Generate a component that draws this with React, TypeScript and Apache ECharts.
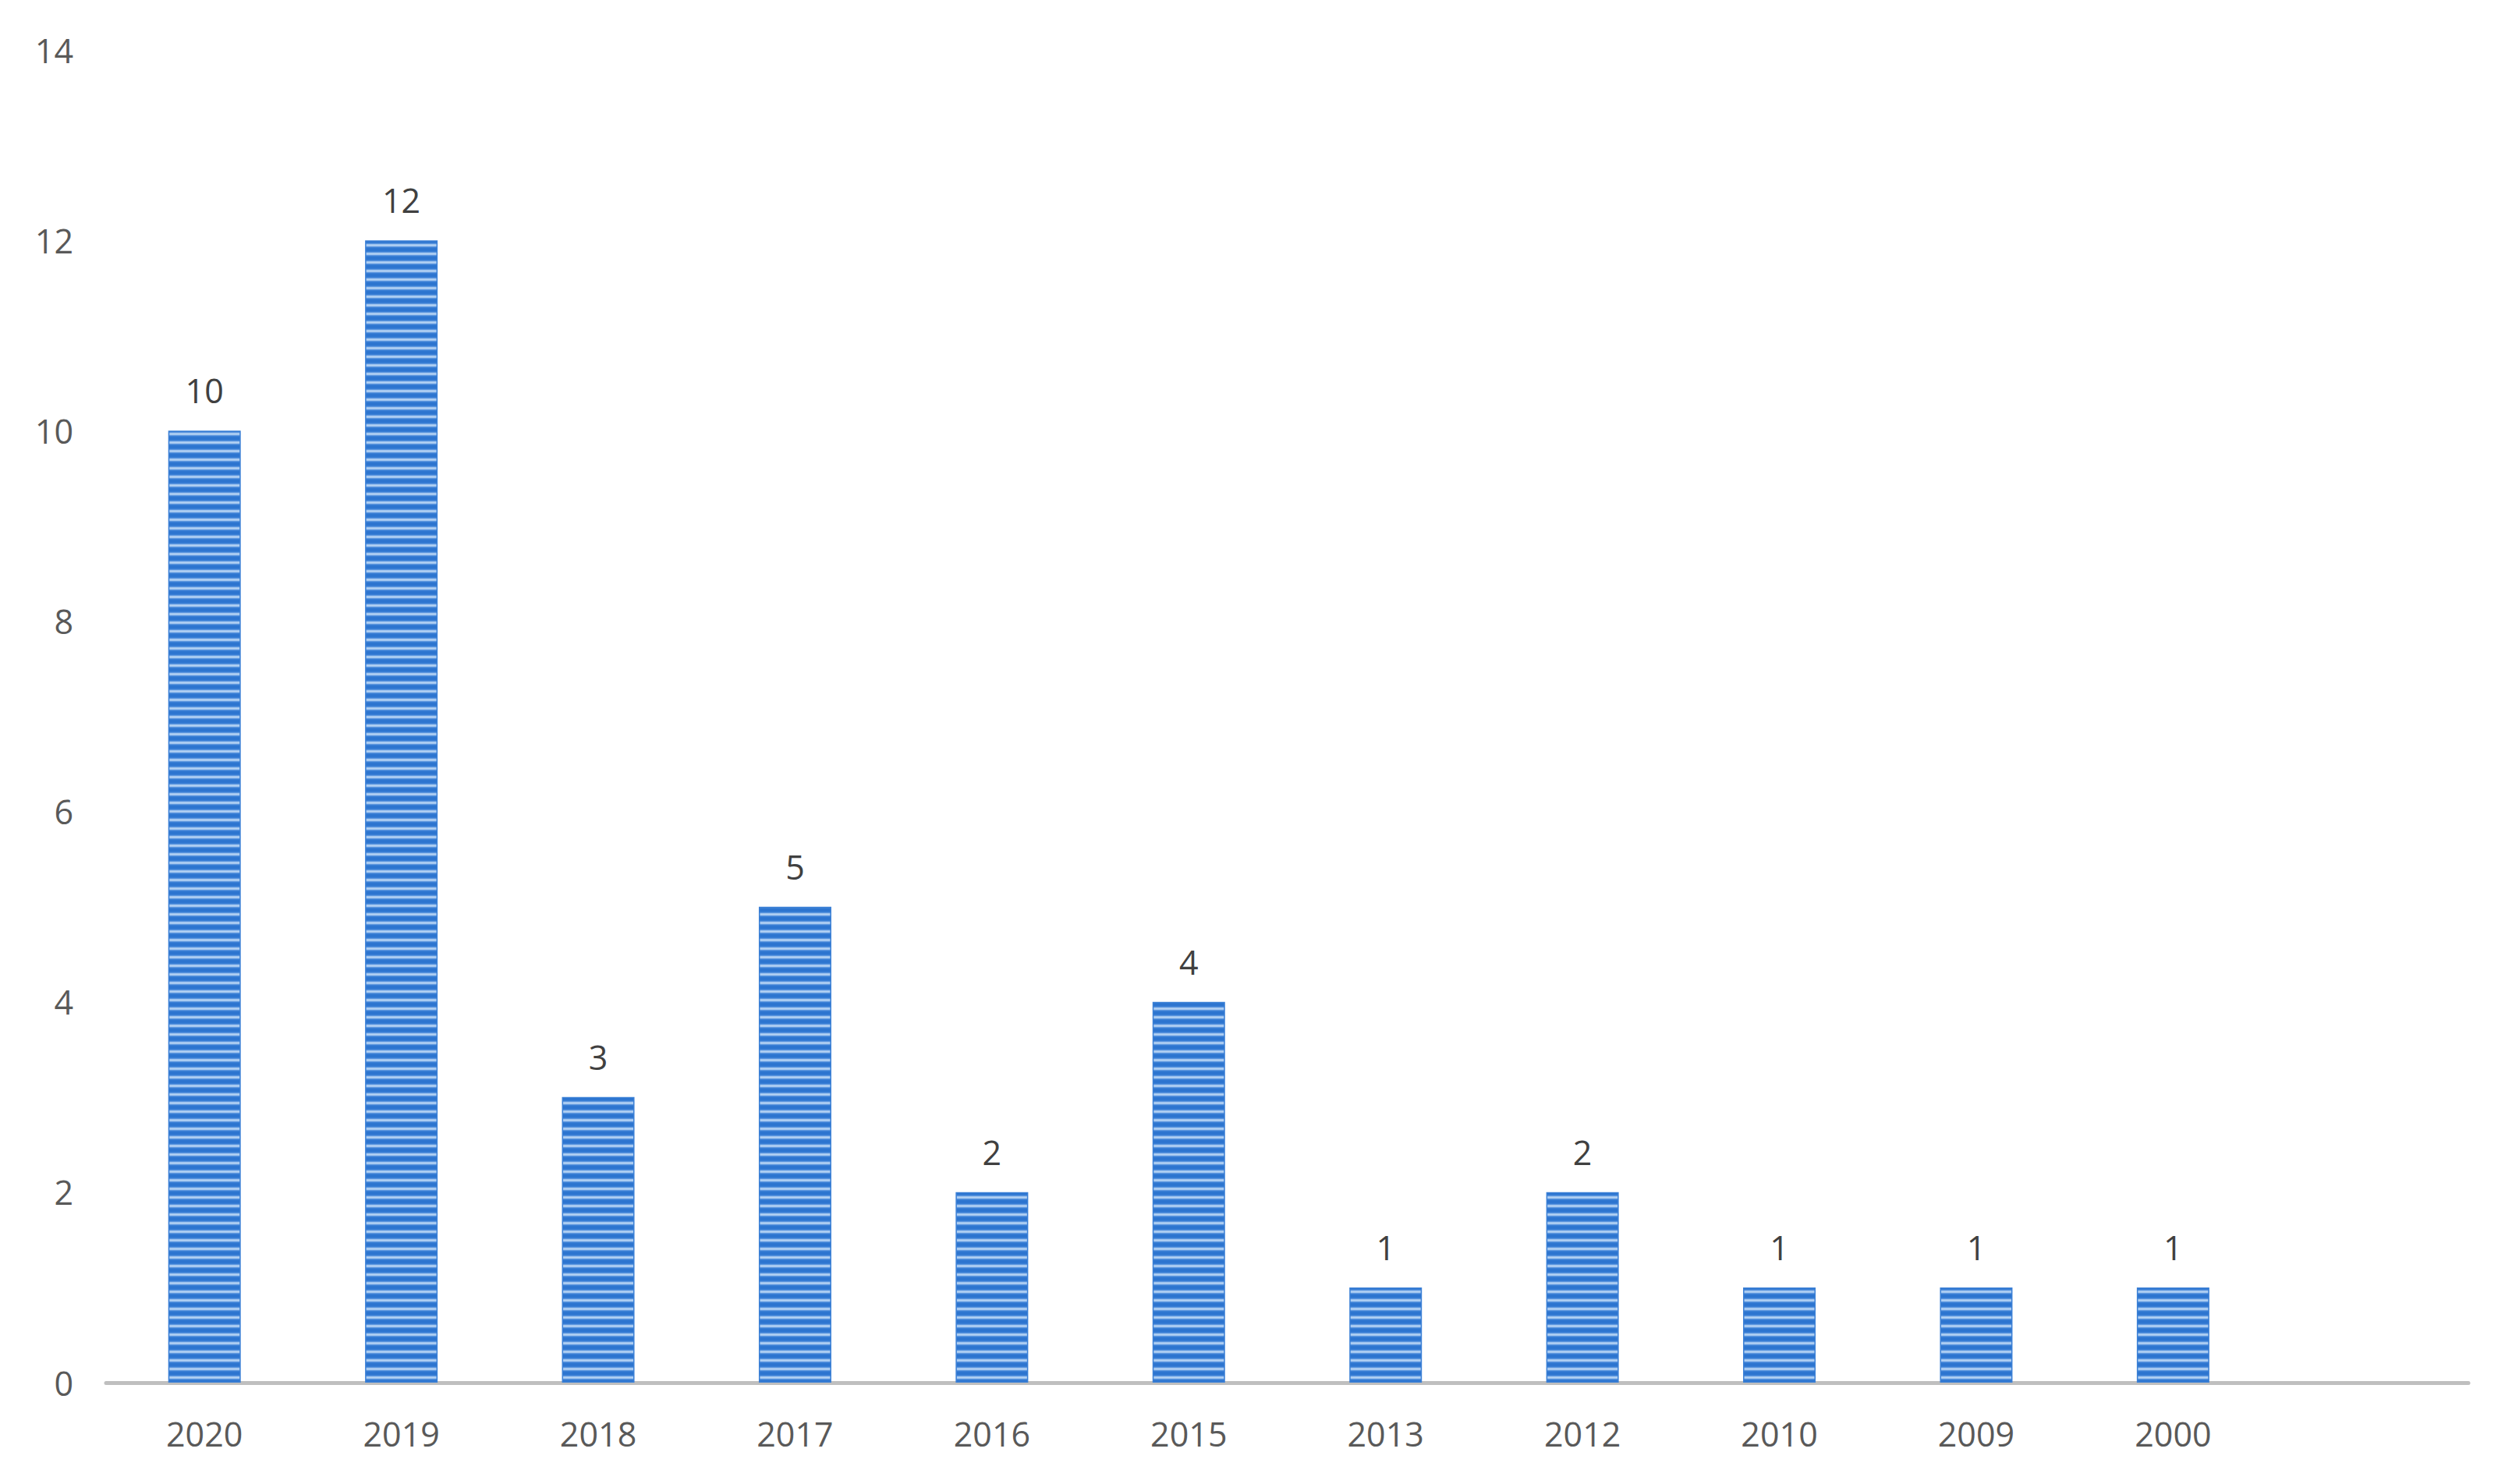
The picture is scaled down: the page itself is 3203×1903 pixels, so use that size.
import React, { useEffect, useRef } from "react";
import * as echarts from "echarts";

const categories = ["2020", "2019", "2018", "2017", "2016", "2015", "2013", "2012", "2010", "2009", "2000", ""];
const values: (number | null)[] = [10, 12, 3, 5, 2, 4, 1, 2, 1, 1, 1, null];
const yMin = 0;
const yMax = 14;
const yInterval = 2;

function makeStripe(): HTMLCanvasElement {
  const c = document.createElement("canvas");
  c.width = 4;
  c.height = 11;
  const ctx = c.getContext("2d")!;
  const rows = ["#2c74cf", "#2c74cf", "#2f77d1", "#3a7fd5", "#5f98df", "#9fc4ef", "#b4d2f3", "#9fc4ef", "#5f98df", "#3a7fd5", "#2f77d1"];
  rows.forEach((col, i) => {
    ctx.fillStyle = col;
    ctx.fillRect(0, i, 4, 1);
  });
  return c;
}

export default function App() {
  const ref = useRef<HTMLDivElement>(null);
  useEffect(() => {
    document.body.style.margin = "0";
    const chart = echarts.init(ref.current!, null, { renderer: "svg" });
    const stripe = makeStripe();
    const font = "'Open Sans', 'Noto Sans', sans-serif";
    chart.setOption({
      animation: false,
      backgroundColor: "#ffffff",
      grid: { left: 136, right: 38, top: 64, bottom: 130, containLabel: false },
      xAxis: {
        type: "category",
        data: categories,
        axisLine: { show: true, lineStyle: { color: "#bfbfbf", width: 5 } },
        axisTick: { show: false },
        axisLabel: { color: "#595959", fontSize: 43, fontFamily: font, margin: 44 },
        splitLine: { show: false },
      },
      yAxis: {
        type: "value",
        min: yMin,
        max: yMax,
        interval: yInterval,
        axisLine: { show: false },
        axisTick: { show: false },
        splitLine: { show: false },
        axisLabel: { color: "#595959", fontSize: 43, fontFamily: font, margin: 42 },
      },
      series: [
        {
          type: "bar",
          data: values,
          barWidth: 93,
          itemStyle: {
            color: { image: stripe, repeat: "repeat", imageWidth: 4, imageHeight: 11 } as any,
            borderColor: "#3a7fd5",
            borderWidth: 1.5,
          },
          label: {
            show: true,
            position: "top",
            distance: 30,
            color: "#404040",
            fontSize: 43,
            fontFamily: font,
          },
        },
      ],
    });
    return () => chart.dispose();
  }, []);
  return <div ref={ref} style={{ width: 3203, height: 1903 }} />;
}
